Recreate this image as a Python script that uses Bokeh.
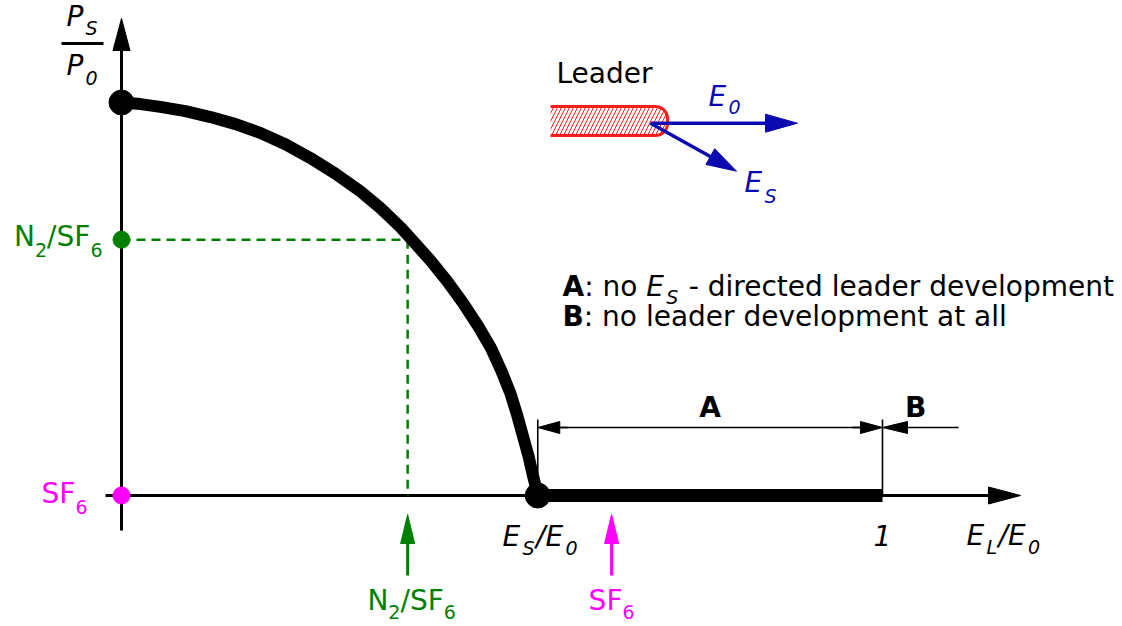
import numpy as np
from bokeh.plotting import figure
from bokeh.models import Range1d
from bokeh.core.properties import value
from bokeh.embed import file_html
from bokeh.resources import INLINE

# Normalised leader curve: P_S/P_0 against E_L/E_0
curve_x = [0.000, 0.025, 0.051, 0.084, 0.117, 0.150, 0.183, 0.216, 0.248, 0.281, 0.314,
           0.340, 0.367, 0.386, 0.406, 0.428, 0.449, 0.468, 0.485, 0.499, 0.511, 0.520,
           0.528, 0.535, 0.540, 0.544, 0.547]
curve_y = [1.000, 0.996, 0.989, 0.978, 0.963, 0.945, 0.922, 0.893, 0.859, 0.819, 0.774,
           0.732, 0.682, 0.641, 0.598, 0.545, 0.489, 0.433, 0.377, 0.318, 0.260, 0.204,
           0.148, 0.099, 0.056, 0.025, 0.000]

es_over_e0 = 0.547      # E_S/E_0, where the curve reaches the field axis
field_one = 1.0         # E_L/E_0 = 1
region_b_end = 1.10
n2sf6_level = 0.651     # P_S/P_0 of the N2/SF6 mixture
n2sf6_field = 0.376     # E_L/E_0 of the N2/SF6 mixture
sf6_level = 0.0
sf6_field = 0.644

GREEN = "#008000"
MAGENTA = "#ff00ff"
BLUE = "#0a0ab0"
RED = "#ff1a1a"
FONT_NAME = "DejaVu Sans"
FONT = value(FONT_NAME)
MAIN, SUB = 28, 19

# advance widths (em) of the glyphs used in the labels
ADV = {" ": .318, "-": .361, "/": .337, ":": .337, "0": .636, "1": .636, "2": .636, "6": .636,
       "A": .684, "B": .686, "E": .632, "F": .575, "L": .557, "N": .748, "P": .603, "S": .635,
       "a": .613, "c": .550, "d": .635, "e": .615, "i": .278, "l": .278, "m": .974, "n": .634,
       "o": .612, "p": .635, "r": .411, "t": .392, "v": .592}
ADV_BOLD = {"A": .774, "B": .760, ":": .400}

# canvas layout: origin position and pixels per unit
W, H = 1122, 626
OX, OY, SX, SY = 121, 495, 761, 393


def dx(px):
    return (px - OX) / SX


def dy(py):
    return (OY - py) / SY


def px(x):
    return OX + x * SX


def py(y):
    return OY - y * SY


def text_width(txt, size, style="normal"):
    table = ADV_BOLD if style == "bold" else {}
    w = sum(table.get(c, ADV.get(c, .6)) for c in txt) * size
    if style == "italic":
        w += 0.08 * size   # slanted glyphs overhang to the right
    return w


p = figure(width=W, height=H, x_range=Range1d(dx(0), dx(W)), y_range=Range1d(dy(H), dy(0)),
           output_backend="svg", toolbar_location=None, min_border=0,
           x_axis_type=None, y_axis_type=None, outline_line_color=None)
p.grid.visible = False
p.background_fill_color = "white"

BASE_SHIFT = 0.35   # baseline position relative to the text anchor, in em


def put(txt, x_px, base_px, size=MAIN, color="black", style="normal", align="left"):
    # leading blanks are collapsed in SVG text, so turn them into an x offset
    lead = len(txt) - len(txt.lstrip(" "))
    if lead and align == "left":
        x_px += lead * ADV[" "] * size
        txt = txt.lstrip(" ")
    p.text(x=[dx(x_px)], y=[dy(base_px - BASE_SHIFT * size)], text=[txt], text_font=FONT,
           text_font_size=f"{size}px", text_font_style=style, text_color=color,
           text_align=align, text_baseline="alphabetic")


def rich(parts, x_px, base_px, color="black", style="normal", drop=9, anchor="left"):
    """parts: list of (text, is_subscript, style or None); laid out left to right."""
    widths = [text_width(t, SUB if s else MAIN, st or style) for t, s, st in parts]
    total = sum(widths)
    x = x_px - (total / 2 if anchor == "center" else total if anchor == "right" else 0)
    for (t, s, st), w in zip(parts, widths):
        if s:
            put(t, x, base_px + drop, SUB, color, st or style)
        else:
            put(t, x, base_px, MAIN, color, st or style)
        x += w


def arrow(x0, y0, x1, y1, head_len, half_w, color, lw):
    """Arrow in pixel space from (x0, y0) to tip (x1, y1)."""
    v = np.array([x1 - x0, y1 - y0], dtype=float)
    u = v / np.hypot(*v)
    n = np.array([-u[1], u[0]])
    base = np.array([x1, y1]) - u * head_len
    p.line([dx(x0), dx(base[0] + u[0])], [dy(y0), dy(base[1] + u[1])],
           line_color=color, line_width=lw)
    a = base + n * half_w
    b = base - n * half_w
    p.patch([dx(x1), dx(a[0]), dx(b[0])], [dy(y1), dy(a[1]), dy(b[1])],
            fill_color=color, line_color=color, line_width=1)


# axes with arrow heads
arrow(px(0), 530, px(0), 18, 32, 8.5, "black", 3)
arrow(105, py(0), 1020, py(0), 32, 8.5, "black", 3)

# N2/SF6 guide lines
p.line([0, n2sf6_field], [n2sf6_level, n2sf6_level], line_color=GREEN, line_width=2.5, line_dash="9 6")
p.line([n2sf6_field, n2sf6_field], [n2sf6_level, 0], line_color=GREEN, line_width=2.5, line_dash="9 6")

# curve and its continuation on the field axis
p.line(curve_x, curve_y, line_color="black", line_width=12, line_join="round", line_cap="round")
p.line([es_over_e0, field_one], [0, 0], line_color="black", line_width=13, line_cap="butt")

# end points and gas markers
p.scatter([curve_x[0], es_over_e0], [curve_y[0], 0], size=25, color="black")
p.scatter([0], [n2sf6_level], size=17, color=GREEN)
p.scatter([0], [sf6_level], size=17, color=MAGENTA)

# regions A and B
dim_y = 427
for xv in (es_over_e0, field_one):
    p.line([xv, xv], [dy(419), 0], line_color="black", line_width=1.6)
xa, xb, xc = px(es_over_e0), px(field_one), px(region_b_end)
p.line([dx(xa + 20), dx(xb - 20)], [dy(dim_y)] * 2, line_color="black", line_width=1.6)
arrow(xa + 30, dim_y, xa, dim_y, 22, 6, "black", 1.6)
arrow(xb - 30, dim_y, xb, dim_y, 22, 6, "black", 1.6)
arrow(xc, dim_y, xb, dim_y, 25, 6, "black", 1.6)
put("A", (xa + xb) / 2, 417, MAIN, style="bold", align="center")
put("B", (xb + xc) / 2 - 5, 417, MAIN, style="bold", align="center")

# gas arrows below the field axis
arrow(px(n2sf6_field), 575, px(n2sf6_field), 514, 29, 7, GREEN, 3)
arrow(px(sf6_field), 575, px(sf6_field), 514, 29, 7, MAGENTA, 3)

# leader sketch: hatched channel with rounded tip
r = 12
top, bot, left, right = 106, 135, 550, 667
t1 = np.linspace(np.pi / 2, 0, 12)
t2 = np.linspace(0, -np.pi / 2, 12)
ox = np.concatenate([[left], right - r + r * np.cos(t1), right - r + r * np.cos(t2), [left]])
oy = np.concatenate([[top], top + r - r * np.sin(t1), bot - r - r * np.sin(t2), [bot]])
p.patch(dx(ox), dy(oy), fill_color="white", line_color=None,
        hatch_pattern="/", hatch_color=RED, hatch_scale=8, hatch_weight=1)
p.line(dx(ox), dy(oy), line_color=RED, line_width=3, line_join="round")
put("Leader", 556, 83)

# field vectors at the leader tip
arrow(650, 122.7, 797, 122.7, 32, 9, BLUE, 3.5)
arrow(650, 122.7, 736, 170.7, 30, 9, BLUE, 3.5)
rich([("E", False, None), ("0", True, None)], 708, 106, BLUE, "italic", drop=7)
rich([("E", False, None), ("S", True, None)], 744, 192, BLUE, "italic", drop=10)

# y-axis title as a fraction
rich([("P", False, None), ("S", True, None)], 66, 26, "black", "italic", drop=8)
p.line([dx(61), dx(103)], [dy(43), dy(43)], line_color="black", line_width=3)
rich([("P", False, None), ("0", True, None)], 66, 75, "black", "italic", drop=9)

# gas labels on the vertical axis
rich([("N", False, None), ("2", True, None), ("/SF", False, None), ("6", True, None)],
     102, py(n2sf6_level) + 7, GREEN, drop=10, anchor="right")
rich([("SF", False, None), ("6", True, None)], 87, py(sf6_level) + 8, MAGENTA, drop=10, anchor="right")

# labels below the field axis
rich([("N", False, None), ("2", True, None), ("/SF", False, None), ("6", True, None)],
     px(n2sf6_field) + 4, 610, GREEN, drop=8, anchor="center")
rich([("SF", False, None), ("6", True, None)], px(sf6_field), 610, MAGENTA, drop=8, anchor="center")
rich([("E", False, None), ("S", True, None), ("/E", False, None), ("0", True, None)],
     px(es_over_e0) + 3, 546, "black", "italic", drop=8, anchor="center")
put("1", px(field_one), 545, MAIN, style="italic", align="center")
rich([("E", False, None), ("L", True, None), ("/E", False, None), ("0", True, None)],
     966, 545, "black", "italic", drop=8)

# explanation of the regions
rich([("A", False, "bold"), (": no ", False, None), ("E", False, "italic"), ("S", True, "italic"),
      (" - directed leader development", False, None)], 562, 296, "black", drop=7)
rich([("B", False, "bold"), (": no leader development at all", False, None)], 562, 326, "black")

open("out.html", "w").write(file_html(p, INLINE))
